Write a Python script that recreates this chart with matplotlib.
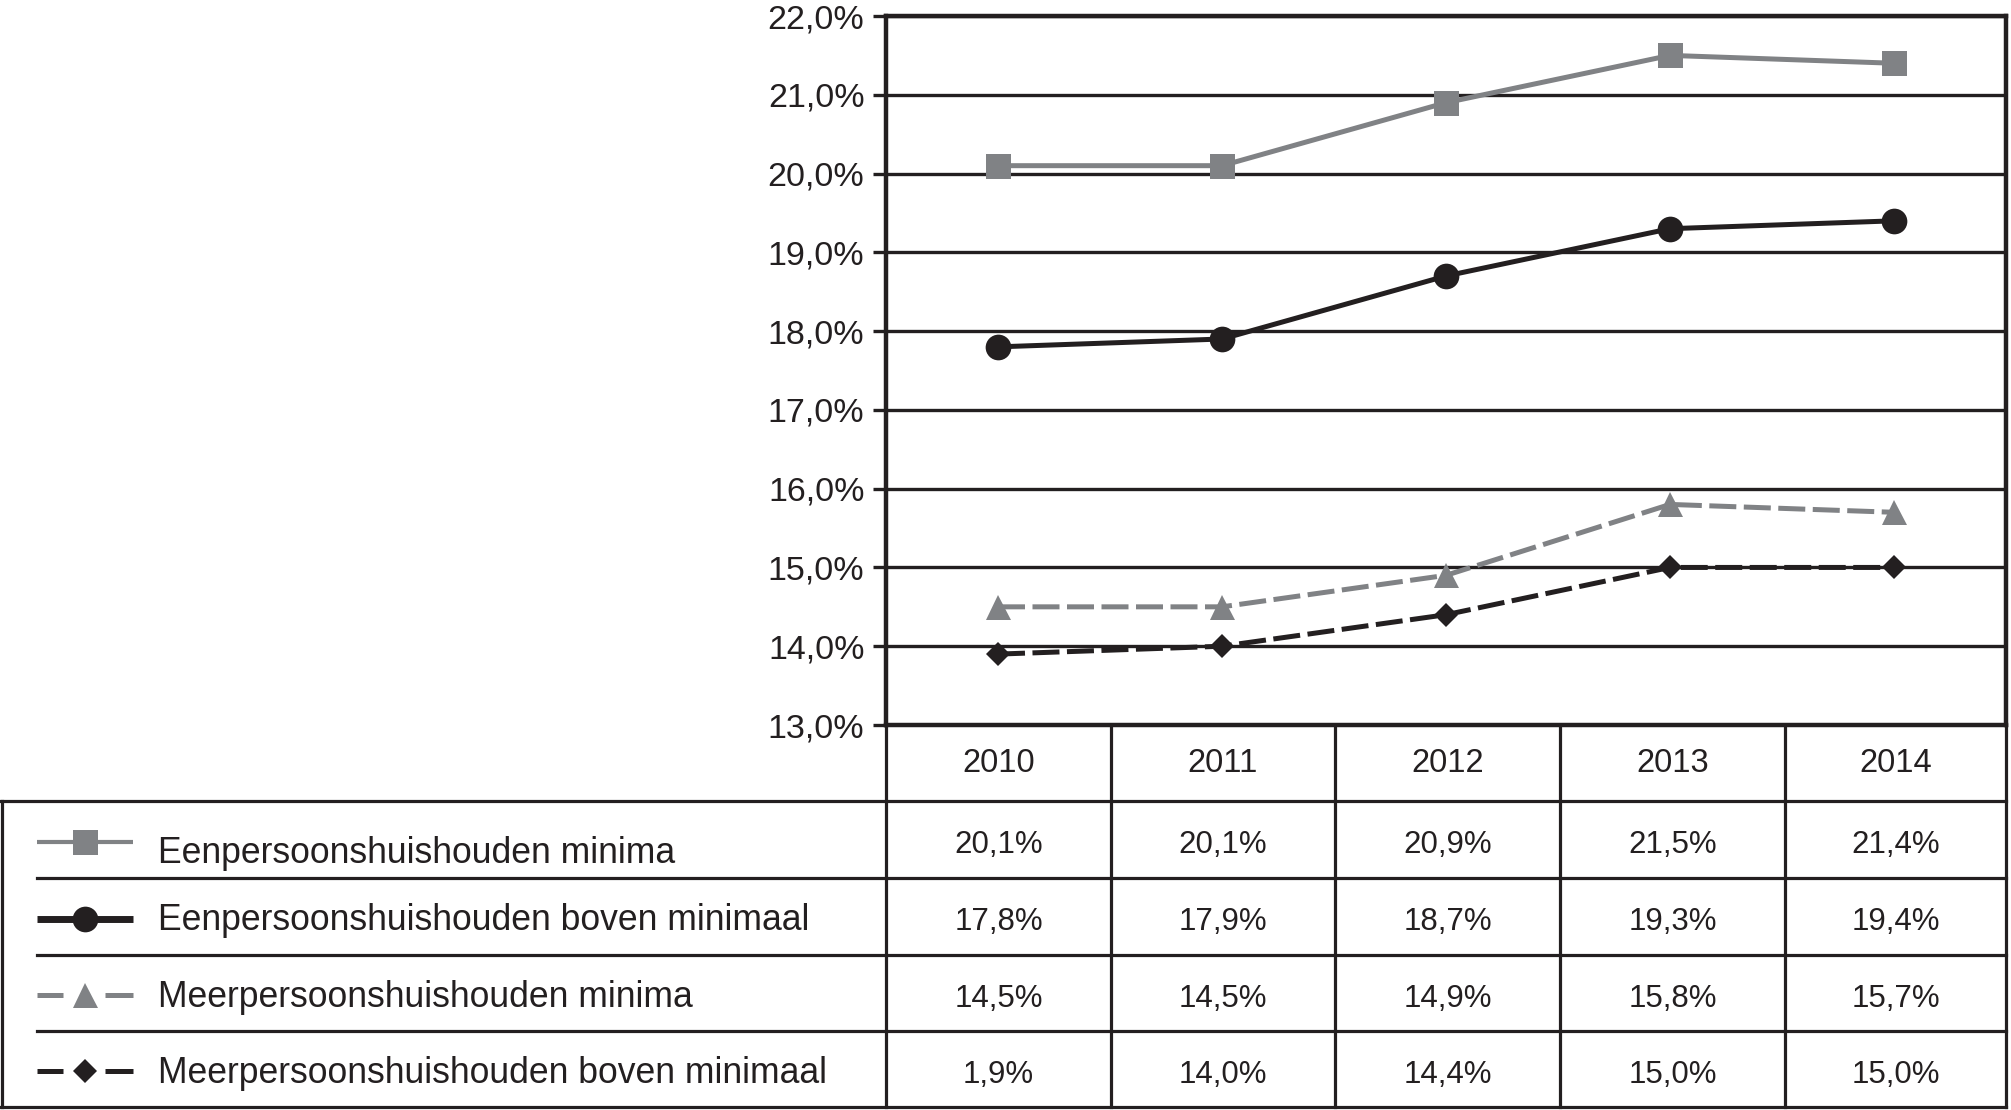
import matplotlib
matplotlib.use("Agg")

import matplotlib.pyplot as plt
from matplotlib.ticker import FuncFormatter

plt.rcParams['font.family'] = ['Liberation Sans', 'DejaVu Sans']

years = ['2010', '2011', '2012', '2013', '2014']
series_names = [
    'Eenpersoonshuishouden minima',
    'Eenpersoonshuishouden boven minimaal',
    'Meerpersoonshuishouden minima',
    'Meerpersoonshuishouden boven minimaal',
]
een_minima = [20.1, 20.1, 20.9, 21.5, 21.4]
een_boven = [17.8, 17.9, 18.7, 19.3, 19.4]
meer_minima = [14.5, 14.5, 14.9, 15.8, 15.7]
meer_boven = [13.9, 14.0, 14.4, 15.0, 15.0]
# table cells as printed in the source (incl. the "1,9%" cell)
table_labels = [
    ['20,1%', '20,1%', '20,9%', '21,5%', '21,4%'],
    ['17,8%', '17,9%', '18,7%', '19,3%', '19,4%'],
    ['14,5%', '14,5%', '14,9%', '15,8%', '15,7%'],
    ['1,9%', '14,0%', '14,4%', '15,0%', '15,0%'],
]

GREY = '#808285'
BLACK = '#231f20'
DASH = (0, (5.4, 1.5))
styles = [
    dict(color=GREY, marker='s', ms=18, lw=3.6, ls='-'),
    dict(color=BLACK, marker='o', ms=18.5, lw=3.6, ls='-'),
    dict(color=GREY, marker='^', ms=18, lw=3.6, ls=DASH),
    dict(color=BLACK, marker='D', ms=12.5, lw=3.6, ls=DASH),
]

W, H = 2011, 1110
fig = plt.figure(figsize=(W / 100, H / 100), dpi=100)

# pixel layout
ax_l, ax_r, ax_t, ax_b = 886, 2006, 16, 725
ax = fig.add_axes([ax_l / W, 1 - ax_b / H, (ax_r - ax_l) / W, (ax_b - ax_t) / H])

x = range(len(years))
for vals, st in zip([een_minima, een_boven, meer_minima, meer_boven], styles):
    ax.plot(x, vals, color=st['color'], marker=st['marker'], markersize=st['ms'],
            linewidth=st['lw'], linestyle=st['ls'], markeredgewidth=0,
            clip_on=False, zorder=3)

ax.set_xlim(-0.5, len(years) - 0.5)
ax.set_ylim(13, 22)
ax.set_yticks(range(13, 23))
ax.yaxis.set_major_formatter(FuncFormatter(lambda v, p: f'{v:.1f}%'.replace('.', ',')))
ax.set_xticks([])
ax.grid(axis='y', color=BLACK, linewidth=2.4)
ax.set_axisbelow(True)
for s in ax.spines.values():
    s.set_color(BLACK)
    s.set_linewidth(3.2)
ax.tick_params(axis='y', length=9.5, width=2.4, color=BLACK, pad=6,
               labelsize=24.5, labelcolor=BLACK)

# overlay in pixel coordinates for the data table
ov = fig.add_axes([0, 0, 1, 1], facecolor='none')
ov.set_xlim(0, W)
ov.set_ylim(H, 0)
ov.axis('off')

row_tops = [725, 801, 878, 955, 1031, 1107]
col_edges = [886, 1111, 1335, 1560, 1785, 2006]
tlw = 2.3

# vertical lines
for cx in col_edges:
    ov.plot([cx, cx], [row_tops[0], row_tops[-1]], color=BLACK, lw=tlw)
ov.plot([2, 2], [row_tops[1], row_tops[-1]], color=BLACK, lw=tlw)
# horizontal lines
ov.plot([0, ax_r], [row_tops[1], row_tops[1]], color=BLACK, lw=tlw)
ov.plot([0, ax_r], [row_tops[-1], row_tops[-1]], color=BLACK, lw=tlw)
for ry in row_tops[2:-1]:
    ov.plot([37, ax_r], [ry, ry], color=BLACK, lw=tlw)

# header years
for i, yr in enumerate(years):
    cx = (col_edges[i] + col_edges[i + 1]) / 2
    ov.text(cx, row_tops[0] + 47, yr, ha='center', va='baseline',
            fontsize=23.5, color=BLACK)

# legend rows + values
for r, (name, st) in enumerate(zip(series_names, styles)):
    top = row_tops[r + 1]
    cy = (top + row_tops[r + 2]) / 2 + 2
    if st['ls'] == '-':
        ov.plot([37, 133], [cy, cy], color=st['color'], lw=5.0 if r == 1 else 3.0,
                solid_capstyle='butt')
    else:
        ov.plot([37, 63], [cy, cy], color=st['color'], lw=st['lw'], solid_capstyle='butt')
        ov.plot([105, 133], [cy, cy], color=st['color'], lw=st['lw'], solid_capstyle='butt')
    ov.plot([85], [cy], color=st['color'], marker=st['marker'], markersize=st['ms'],
            markeredgewidth=0, linestyle='none')
    ov.text(158, top + (62 if r == 0 else 52), name, ha='left', va='baseline',
            fontsize=25.6, color=BLACK)
    for i, lab in enumerate(table_labels[r]):
        cx = (col_edges[i] + col_edges[i + 1]) / 2
        ov.text(cx, top + 52, lab, ha='center', va='baseline', fontsize=22.5, color=BLACK)

fig.savefig('out.png', dpi=100)
